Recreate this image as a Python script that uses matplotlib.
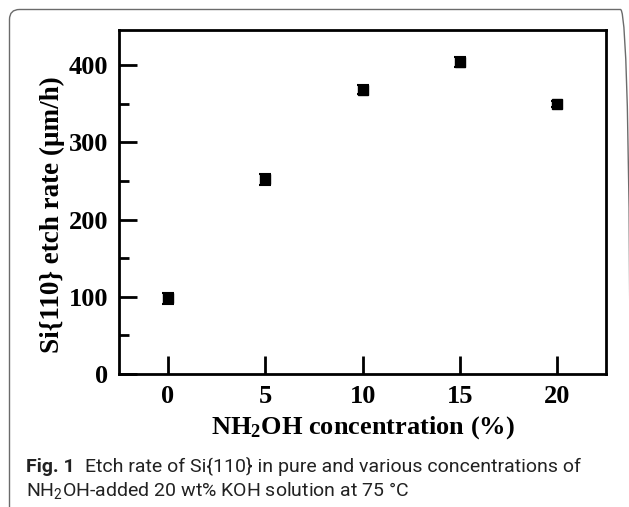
import matplotlib
matplotlib.use('Agg')
import matplotlib.pyplot as plt
from matplotlib.patches import FancyBboxPatch
from matplotlib.transforms import IdentityTransform
from matplotlib.ticker import MultipleLocator

# data
conc = [0, 5, 10, 15, 20]          # NH2OH concentration (%)
rate = [98, 252, 368, 404, 350]    # Si{110} etch rate (um/h)
err = [7, 7, 6, 6, 4]

plt.rcParams['mathtext.default'] = 'regular'

W, H = 629, 507
fig = plt.figure(figsize=(W / 100, H / 100), dpi=100)

# axes box in pixels: left 119, right 606, top 29.5, bottom 374
ax = fig.add_axes([119.25 / W, 1 - 374 / H, (606 - 119.25) / W, (374 - 29.5) / H])

ax.errorbar(conc, rate, yerr=err, fmt='s', color='black', ms=6.5, capsize=4,
            elinewidth=1.5, capthick=1.5)

ax.set_xlim(-2.5, 22.5)
ax.set_ylim(0, 446)
ax.set_xticks(conc)
ax.yaxis.set_major_locator(MultipleLocator(100))
ax.yaxis.set_minor_locator(MultipleLocator(50))

serif = 'Liberation Serif'
for s in ax.spines.values():
    s.set_linewidth(2)
ax.tick_params(which='both', direction='in', width=2, top=False, right=False)
ax.tick_params(which='major', length=13, pad=8)
ax.tick_params(which='minor', length=7)
for lab in ax.get_xticklabels() + ax.get_yticklabels():
    lab.set_fontfamily(serif)
    lab.set_fontweight('bold')
    lab.set_fontsize(19)

ax.set_xlabel('NH$_2$OH concentration (%)', fontfamily=serif, fontweight='bold',
              fontsize=19, labelpad=4)
ax.set_ylabel('Si{110} etch rate (\u03bcm/h)', fontfamily=serif, fontweight='bold',
              fontsize=19.5)
ax.yaxis.set_label_coords(-0.112, 0.464)

# rounded frame around the figure panel
frame = FancyBboxPatch((9.5, -20), W - 9.5 + 1.5, H - 9.5 + 20,
                       boxstyle='round,pad=0,rounding_size=10',
                       transform=IdentityTransform(), fill=False,
                       edgecolor='#6b6b6b', linewidth=1)
fig.add_artist(frame)

# caption
cap = 'Roboto'
t1 = fig.text(26 / W, 1 - 472 / H, 'Fig. 1', fontfamily=cap, fontweight='bold',
              fontsize=14, va='baseline', color='#222222')
fig.canvas.draw()
x1 = t1.get_window_extent().x1
fig.text((x1 + 10) / W, 1 - 472 / H,
         'Etch rate of Si{110} in pure and various concentrations of',
         fontfamily=cap, fontsize=14, va='baseline', color='#222222')
fig.text(26 / W, 1 - 496 / H, 'NH$_2$OH-added 20 wt% KOH solution at 75 \u00b0C',
         fontfamily=cap, fontsize=14, va='baseline', color='#222222')

fig.savefig('out.png', dpi=100)
